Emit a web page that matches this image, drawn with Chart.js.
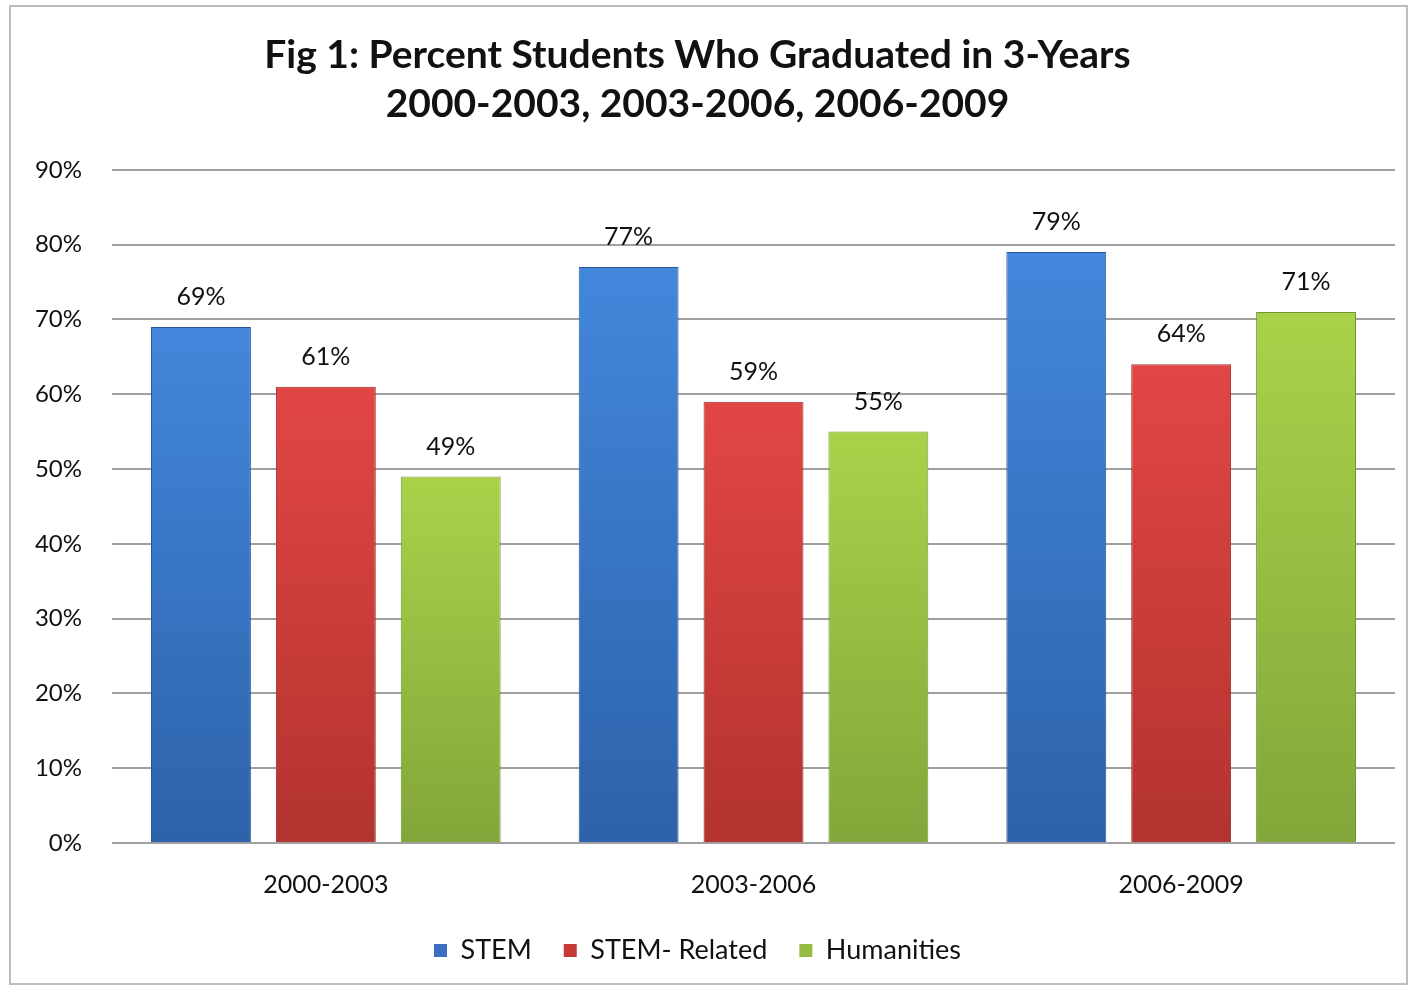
<!DOCTYPE html>
<html>
<head>
<meta charset="utf-8">
<title>Fig 1: Percent Students Who Graduated in 3-Years</title>
<script src="https://cdn.jsdelivr.net/npm/chart.js@4.4.1/dist/chart.umd.min.js"></script>
<style>
  html, body { margin: 0; padding: 0; background: #fff; }
  #wrap { position: relative; width: 1411px; height: 987px; }
</style>
</head>
<body>
<div id="wrap"><canvas id="mainChart" width="1411" height="987"></canvas></div>
<script>
const periods = ["2000-2003", "2003-2006", "2006-2009"];
const stemValues = [69, 77, 79];
const stemRelatedValues = [61, 59, 64];
const humanitiesValues = [49, 55, 71];
const yTicks = [0, 10, 20, 30, 40, 50, 60, 70, 80, 90];
const titleLines = [
  "Fig 1: Percent Students Who Graduated in 3-Years",
  "2000-2003, 2003-2006, 2006-2009",
];

const FONT = "Lato, 'Open Sans', sans-serif";

// vertical gradient for each bar, lighter at the top
function barFill(top, bottom) {
  return (ctx) => {
    const chart = ctx.chart;
    const y = chart.scales.y;
    if (!chart.chartArea || !y || ctx.raw == null) return top;
    const g = chart.ctx.createLinearGradient(
      0,
      y.getPixelForValue(ctx.raw),
      0,
      y.getPixelForValue(0)
    );
    g.addColorStop(0, top);
    g.addColorStop(1, bottom);
    return g;
  };
}

function makeSet(label, data, top, bottom, edge, legendColor) {
  return {
    label,
    data,
    backgroundColor: barFill(top, bottom),
    borderColor: edge,
    borderWidth: 1,
    categoryPercentage: 0.876,
    barPercentage: 0.8,
    legendColor,
  };
}

const datasets = [
  makeSet("STEM", stemValues, "#4287dc", "#2d62a9", "#2a5795", "#3a70bf"),
  makeSet("STEM- Related", stemRelatedValues, "#e24644", "#b2332f", "#9c2b29", "#c53a37"),
  makeSet("Humanities", humanitiesValues, "#a9d24a", "#83a63a", "#739334", "#94bb42"),
];

// value labels above bars
const valueLabels = {
  id: "valueLabels",
  afterDatasetsDraw(chart) {
    const { ctx } = chart;
    ctx.save();
    ctx.font = `25px ${FONT}`;
    ctx.fillStyle = "#111";
    ctx.textAlign = "center";
    ctx.textBaseline = "middle";
    chart.data.datasets.forEach((ds, i) => {
      chart.getDatasetMeta(i).data.forEach((bar, j) => {
        ctx.fillText(ds.data[j] + "%", bar.x, bar.y - 30);
      });
    });
    ctx.restore();
  },
};

// thin frame round the chart
const frame = {
  id: "frame",
  beforeDraw(chart) {
    const { ctx } = chart;
    ctx.save();
    ctx.fillStyle = "#fff";
    ctx.fillRect(0, 0, chart.width, chart.height);
    ctx.strokeStyle = "#bdbdbd";
    ctx.lineWidth = 2;
    ctx.strokeRect(10, 6, 1397, 978);
    ctx.restore();
  },
};

new Chart(document.getElementById("mainChart").getContext("2d"), {
  type: "bar",
  data: { labels: periods, datasets },
  plugins: [frame, valueLabels],
  options: {
    responsive: false,
    animation: false,
    devicePixelRatio: 1,
    layout: { padding: { top: 5, right: 16, left: 0, bottom: 13 } },
    scales: {
      x: {
        grid: { display: false },
        border: { display: false },
        ticks: { color: "#111", font: { family: FONT, size: 25 }, padding: 19 },
        afterFit(scale) { scale.height = 62; },
      },
      y: {
        min: 0,
        max: 90,
        afterBuildTicks(scale) { scale.ticks = yTicks.map((v) => ({ value: v })); },
        grid: { color: "#a0a0a0", lineWidth: 2, drawTicks: false },
        border: { display: false },
        ticks: {
          color: "#111",
          font: { family: FONT, size: 24 },
          padding: 30,
          callback: (v) => v + "%",
        },
        afterFit(scale) { scale.width = 112; },
      },
    },
    plugins: {
      title: {
        display: true,
        text: titleLines,
        color: "#111",
        font: { family: FONT, size: 39, weight: "bold", lineHeight: 1.28 },
        padding: { top: 25, bottom: 40 },
      },
      legend: {
        position: "bottom",
        labels: {
          color: "#111",
          font: { family: FONT, size: 27 },
          boxWidth: 13,
          boxHeight: 13,
          padding: 32,
          generateLabels(chart) {
            return chart.data.datasets.map((ds, i) => ({
              text: ds.label,
              fillStyle: ds.legendColor,
              strokeStyle: ds.legendColor,
              lineWidth: 0,
              datasetIndex: i,
              fontColor: "#111",
            }));
          },
        },
      },
      tooltip: { enabled: false },
    },
  },
});
</script>
</body>
</html>
